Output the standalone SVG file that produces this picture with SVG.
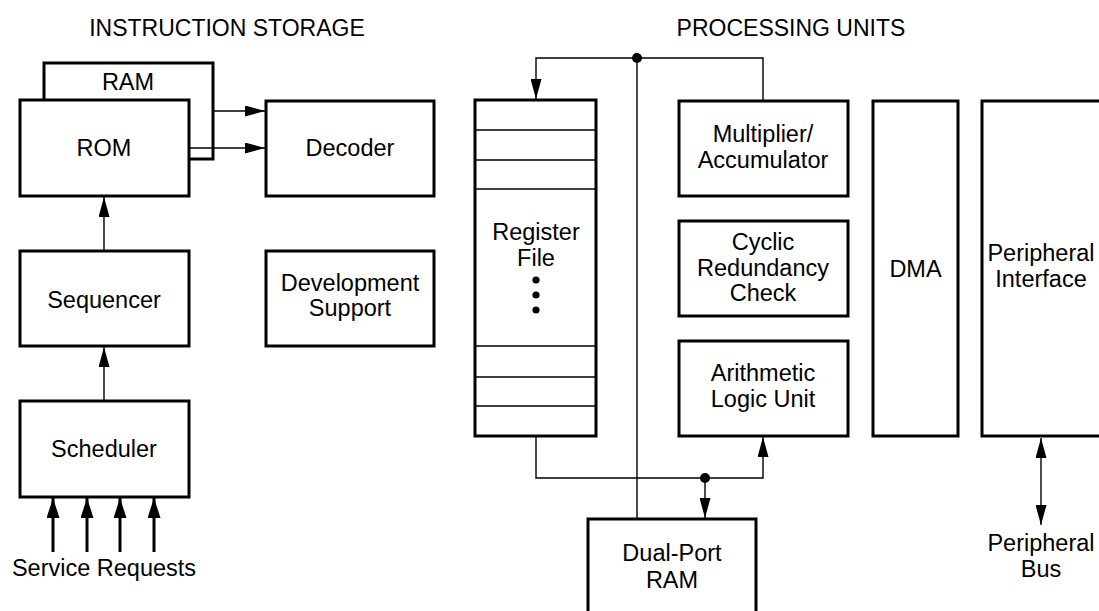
<svg xmlns="http://www.w3.org/2000/svg" width="1099" height="611" viewBox="0 0 1099 611">
<style>
  .box { fill: #fff; stroke: #000; stroke-width: 3; }
  .ln { fill: none; stroke: #000; stroke-width: 1.4; }
  .thick { fill: none; stroke: #000; stroke-width: 3; }
  text { font-family: "Liberation Sans", Arial, Helvetica, sans-serif; font-size: 23.5px; fill: #000; text-anchor: middle; }
  .title { font-size: 23px; }
</style>
<defs>
  <marker id="ah" markerUnits="userSpaceOnUse" markerWidth="20" markerHeight="11" refX="20" refY="5.5" orient="auto-start-reverse" viewBox="0 0 20 11">
    <path d="M0,0 L20,5.5 L0,11 z" fill="#000"/>
  </marker>
  <marker id="ahb" markerUnits="userSpaceOnUse" markerWidth="20" markerHeight="13" refX="20" refY="6.5" orient="auto" viewBox="0 0 20 13">
    <path d="M0,0 L20,6.5 L0,13 z" fill="#000"/>
  </marker>
</defs>
<rect width="1099" height="611" fill="#fff"/>

<g id="titles">
  <text class="title" x="227" y="36">INSTRUCTION STORAGE</text>
  <text class="title" x="791" y="36">PROCESSING UNITS</text>
</g>

<g id="ram"><rect class="box" x="44" y="63" width="169" height="96"/><text x="128" y="90">RAM</text></g>
<g id="rom"><rect class="box" x="20" y="100" width="169" height="96"/><text x="104" y="156">ROM</text></g>
<g id="decoder"><rect class="box" x="266" y="101" width="168" height="95"/><text x="350" y="156">Decoder</text></g>
<g id="sequencer"><rect class="box" x="20" y="251" width="169" height="95"/><text x="104" y="308">Sequencer</text></g>
<g id="devsupport"><rect class="box" x="266" y="251" width="168" height="95"/><text x="350" y="291">Development</text><text x="350" y="316">Support</text></g>
<g id="scheduler"><rect class="box" x="20" y="401" width="169" height="96"/><text x="104" y="457">Scheduler</text></g>
<g id="service-requests"><text x="104" y="576">Service Requests</text></g>

<g id="regfile">
  <rect class="box" x="475" y="100" width="121" height="336"/>
  <g class="ln">
    <line x1="475" y1="130" x2="596" y2="130"/>
    <line x1="475" y1="160" x2="596" y2="160"/>
    <line x1="475" y1="189" x2="596" y2="189"/>
    <line x1="475" y1="346" x2="596" y2="346"/>
    <line x1="475" y1="377" x2="596" y2="377"/>
    <line x1="475" y1="406" x2="596" y2="406"/>
  </g>
  <text x="536" y="240">Register</text>
  <text x="536" y="266">File</text>
  <circle cx="536" cy="280" r="3.6"/>
  <circle cx="536" cy="295" r="3.6"/>
  <circle cx="536" cy="310" r="3.6"/>
</g>
<g id="mac"><rect class="box" x="679" y="101" width="169" height="95"/><text x="763" y="142">Multiplier/</text><text x="763" y="168">Accumulator</text></g>
<g id="crc"><rect class="box" x="679" y="221" width="169" height="95"/><text x="763" y="250">Cyclic</text><text x="763" y="276">Redundancy</text><text x="763" y="301">Check</text></g>
<g id="alu"><rect class="box" x="679" y="341" width="169" height="95"/><text x="763" y="381">Arithmetic</text><text x="763" y="407">Logic Unit</text></g>
<g id="dma"><rect class="box" x="873" y="101" width="85" height="335"/><text x="915.5" y="277">DMA</text></g>
<g id="periph"><rect class="box" x="982" y="101" width="130" height="335"/><text x="1041" y="261">Peripheral</text><text x="1041" y="287">Interface</text></g>
<g id="dpram"><rect class="box" x="588" y="519" width="168" height="100"/><text x="672" y="561">Dual-Port</text><text x="672" y="588">RAM</text></g>
<g id="periph-bus"><text x="1041" y="551">Peripheral</text><text x="1041" y="577">Bus</text></g>

<g id="connectors">
  <line class="ln" x1="213" y1="111" x2="265" y2="111" marker-end="url(#ah)"/>
  <line class="ln" x1="189" y1="148" x2="265" y2="148" marker-end="url(#ah)"/>
  <line class="ln" x1="104" y1="251" x2="104" y2="197" marker-end="url(#ah)"/>
  <line class="ln" x1="104" y1="401" x2="104" y2="347" marker-end="url(#ah)"/>
  <line class="thick" x1="53" y1="552" x2="53" y2="498" marker-end="url(#ahb)"/>
  <line class="thick" x1="87" y1="552" x2="87" y2="498" marker-end="url(#ahb)"/>
  <line class="thick" x1="120" y1="552" x2="120" y2="498" marker-end="url(#ahb)"/>
  <line class="thick" x1="154" y1="552" x2="154" y2="498" marker-end="url(#ahb)"/>
  <polyline class="ln" points="763,101 763,58 536,58 536,99" marker-end="url(#ah)"/>
  <line class="ln" x1="637" y1="58" x2="637" y2="519"/>
  <circle cx="637" cy="58" r="5"/>
  <polyline class="ln" points="536,436 536,478 763,478 763,437" marker-end="url(#ah)"/>
  <line class="ln" x1="705" y1="478" x2="705" y2="518" marker-end="url(#ah)"/>
  <circle cx="705" cy="478" r="5"/>
  <line class="ln" x1="1041" y1="438" x2="1041" y2="525" marker-start="url(#ah)" marker-end="url(#ah)"/>
</g>
</svg>
